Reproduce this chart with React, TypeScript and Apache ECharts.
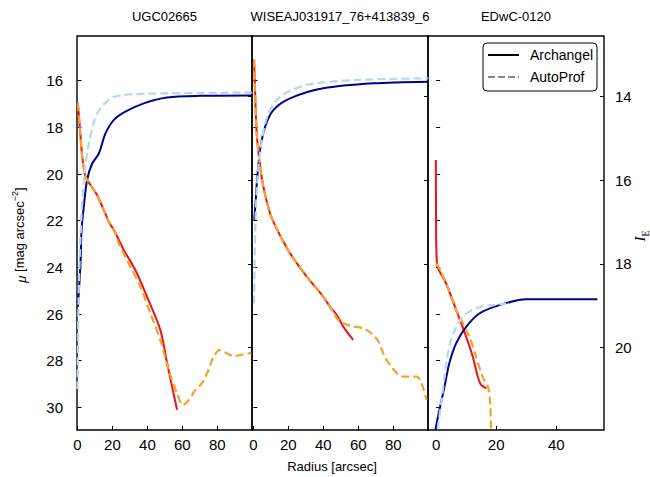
import React, { useEffect, useRef } from "react";
import * as echarts from "echarts";

const panelTitles = ["UGC02665", "WISEAJ031917_76+413839_6", "EDwC-0120"];
const muTicks = [16, 18, 20, 22, 24, 26, 28, 30];
const magTicks = [14, 16, 18, 20];
const xTicksWide = [0, 20, 40, 60, 80];
const xTicksNarrow = [0, 20, 40];

// Panel 1: UGC02665
const p1ArchMuR = [0.2, 1.3, 2.7, 4.6, 7.4, 11.2, 15, 17.9, 21.2, 26.5, 33.1, 39.8, 47.4, 51.3, 54.1, 57];
const p1ArchMu = [16.97, 17.97, 19.26, 20.11, 20.47, 20.9, 21.54, 22.04, 22.45, 23.26, 24.11, 25.26, 26.68, 28.1, 29.1, 30.1];
const p1AutoMuR = [0.2, 1.3, 2.7, 4.6, 7.4, 11.2, 15, 17.9, 21.2, 23.6, 29.3, 36, 41.7, 47.4, 52.2, 57, 60.4, 63.6, 67.4, 71.2, 75, 77.9, 81.7, 85.5, 89.3, 93.1, 99.5];
const p1AutoMu = [16.97, 17.97, 19.26, 20.11, 20.47, 20.9, 21.54, 22.04, 22.45, 22.97, 23.83, 24.83, 25.97, 27.11, 28.4, 29.4, 29.9, 29.7, 29.26, 28.97, 28.4, 27.83, 27.54, 27.68, 27.8, 27.76, 27.66];
const p1ArchMagR = [0.2, 1.7, 2.3, 3.6, 5.5, 8.4, 12.2, 16, 20.7, 27.4, 37.9, 51.3, 70.3, 99.8];
const p1ArchMag = [19.03, 17.99, 17.19, 16.63, 15.99, 15.6, 15.36, 14.88, 14.56, 14.36, 14.16, 14.02, 13.98, 13.97];
const p1AutoMagR = [0, 0.6, 1.7, 3.6, 6.5, 11.3, 18.9, 25, 32.2, 51.3, 100];
const p1AutoMag = [21.0, 18.87, 17.35, 15.99, 15.12, 14.4, 14.04, 13.97, 13.94, 13.92, 13.9];

// Panel 2: WISEAJ031917_76+413839_6
const p2ArchMuR = [0.4, 1.0, 1.9, 3.4, 5.7, 9.5, 13, 16.2, 21, 30.5, 40, 43.8, 47.7, 51.5, 57.1];
const p2ArchMu = [15.08, 16.54, 18.25, 19.4, 20.54, 21.68, 22.3, 22.76, 23.4, 24.4, 25.26, 25.69, 26.04, 26.55, 27.11];
const p2AutoMuR = [0.4, 1.0, 1.9, 3.4, 5.7, 9.5, 13, 16.2, 21, 30.5, 40, 43.8, 49.1, 55.3, 62.9, 67.7, 71.5, 76.2, 85.7, 93.4, 96.2, 99.1];
const p2AutoMu = [15.08, 16.54, 18.25, 19.4, 20.54, 21.68, 22.3, 22.76, 23.4, 24.4, 25.26, 25.69, 26.3, 26.5, 26.62, 26.84, 27.17, 27.97, 28.68, 28.68, 28.97, 29.68];
const p2ArchMagR = [0.5, 1.3, 2.0, 3.8, 6.7, 11.4, 21, 40, 68.6, 100];
const p2ArchMag = [16.95, 16.5, 16.05, 15.28, 14.72, 14.32, 14.04, 13.8, 13.68, 13.64];
const p2AutoMagR = [0.4, 1.0, 2.3, 4.8, 8.6, 15.3, 30.5, 59, 100];
const p2AutoMag = [18.95, 17.27, 15.99, 15.04, 14.4, 14.0, 13.72, 13.6, 13.56];

// Panel 3: EDwC-0120
const p3ArchMuR = [-0.1, -0.05, 0, 0.1, 0.5, 3.3, 6.7, 10, 12.2, 13.9, 15, 16.7];
const p3ArchMu = [19.4, 21.0, 22.4, 23.3, 23.97, 24.68, 25.83, 26.97, 27.83, 28.69, 29.04, 29.18];
const p3AutoMuR = [0, 1.1, 3.3, 6.7, 11.1, 13.3, 15.5, 17.2, 18, 18.3];
const p3AutoMu = [23.83, 24.04, 24.68, 25.83, 26.97, 27.83, 28.69, 29.1, 29.83, 30.95];
const p3ArchMagR = [-0.2, 1.1, 2.8, 4.4, 6.7, 10, 14.4, 21.1, 30, 53.7];
const p3ArchMag = [21.96, 21.5, 20.94, 20.38, 19.9, 19.51, 19.19, 18.99, 18.85, 18.85];
const p3AutoMagR = [0.5, 1.7, 2.8, 4.4, 6.7, 10, 14.4, 18.9, 23.3];
const p3AutoMag = [21.96, 21.34, 20.7, 19.98, 19.51, 19.19, 19.04, 18.99, 18.96];

const FONT = "Liberation Sans";
const RED = "#e8141a";
const NAVY = "#00008b";
const ORANGE = "#f2a32c";
const LIGHTBLUE = "#b7d7e8";

const zip = (xs: number[], ys: number[]) => xs.map((x, i) => [x, ys[i]]);

const panels = [
  { left: 77, width: 175, xmin: -0.3, xmax: 99.9, ticks: xTicksWide,
    archMu: zip(p1ArchMuR, p1ArchMu), autoMu: zip(p1AutoMuR, p1AutoMu),
    archMag: zip(p1ArchMagR, p1ArchMag), autoMag: zip(p1AutoMagR, p1AutoMag) },
  { left: 252, width: 176, xmin: -0.8, xmax: 99.9, ticks: xTicksWide,
    archMu: zip(p2ArchMuR, p2ArchMu), autoMu: zip(p2AutoMuR, p2AutoMu),
    archMag: zip(p2ArchMagR, p2ArchMag), autoMag: zip(p2AutoMagR, p2AutoMag) },
  { left: 428, width: 176, xmin: -2.7, xmax: 55.9, ticks: xTicksNarrow,
    archMu: zip(p3ArchMuR, p3ArchMu), autoMu: zip(p3AutoMuR, p3AutoMu),
    archMag: zip(p3ArchMagR, p3ArchMag), autoMag: zip(p3AutoMagR, p3AutoMag) },
];

const TOP = 36;
const HEIGHT = 394;

export default function App() {
  const ref = useRef<HTMLDivElement>(null);
  useEffect(() => {
    if (!ref.current) return;
    const chart = echarts.init(ref.current, null, { renderer: "svg" });
    const grid: any[] = [];
    const xAxis: any[] = [];
    const yAxis: any[] = [];
    const series: any[] = [];
    panels.forEach((p, i) => {
      grid.push({ left: p.left, top: TOP, width: p.width, height: HEIGHT, show: true,
        borderColor: "#000", borderWidth: 1.4, backgroundColor: "transparent" });
      xAxis.push({
        gridIndex: i, type: "value", min: p.xmin, max: p.xmax,
        axisLine: { show: false },
        splitLine: { show: false },
        axisTick: { show: true, inside: true, length: 4, customValues: p.ticks, lineStyle: { color: "#000", width: 1 } },
        axisLabel: { customValues: p.ticks, color: "#000", fontSize: 15, fontFamily: FONT, margin: 7 },
      });
      yAxis.push({
        gridIndex: i, type: "value", position: "left", inverse: true, min: 14.084, max: 30.97,
        axisLine: { show: false }, splitLine: { show: false },
        axisTick: { show: true, inside: true, length: 4, customValues: muTicks, lineStyle: { color: "#000", width: 1 } },
        axisLabel: { show: i === 0, customValues: muTicks, color: "#000", fontSize: 15, fontFamily: FONT, margin: 14, padding: [0, 0, 7, 0] },
      });
      yAxis.push({
        gridIndex: i, type: "value", position: "right", inverse: true, min: 12.547, max: 21.98,
        axisLine: { show: false }, splitLine: { show: false },
        axisTick: { show: true, inside: true, length: 4, customValues: magTicks, lineStyle: { color: "#000", width: 1 } },
        axisLabel: { show: i === 2, customValues: magTicks, color: "#000", fontSize: 15, fontFamily: FONT, margin: 11, padding: [0, 0, 7, 0] },
      });
      const base = { type: "line", xAxisIndex: i, showSymbol: false, symbol: "none", silent: true, smooth: 0.3 };
      series.push({ ...base, name: "Archangel mu " + i, yAxisIndex: 2 * i, data: p.archMu,
        lineStyle: { color: RED, width: 2 } });
      series.push({ ...base, name: "Archangel mag " + i, yAxisIndex: 2 * i + 1, data: p.archMag,
        lineStyle: { color: NAVY, width: 2 } });
      series.push({ ...base, name: "AutoProf mu " + i, yAxisIndex: 2 * i, data: p.autoMu,
        lineStyle: { color: ORANGE, width: 2.2, type: [8, 4] } });
      series.push({ ...base, name: "AutoProf mag " + i, yAxisIndex: 2 * i + 1, data: p.autoMag,
        lineStyle: { color: LIGHTBLUE, width: 2.2, type: [8, 4] } });
    });

    const graphic: any[] = [];
    panels.forEach((p, i) => {
      graphic.push({ type: "text", x: p.left + p.width / 2, y: 16,
        style: { text: panelTitles[i], fill: "#000", fontSize: 13, fontFamily: FONT, textAlign: "center", textVerticalAlign: "middle" } });
    });
    graphic.push({ type: "text", x: 332, y: 466,
      style: { text: "Radius [arcsec]", fill: "#000", fontSize: 13, fontFamily: FONT, textAlign: "center", textVerticalAlign: "middle" } });
    graphic.push({ type: "text", x: 19, y: 235, rotation: Math.PI / 2,
      style: { text: "{i|μ} [mag arcsec{sup|−2}]", fill: "#000", fontSize: 13, fontFamily: FONT, textAlign: "center", textVerticalAlign: "middle",
        rich: {
          i: { fontSize: 13, fontStyle: "italic", fontFamily: FONT, lineHeight: 18, verticalAlign: "bottom" },
          sup: { fontSize: 9, fontFamily: FONT, verticalAlign: "top", lineHeight: 18 },
        } } });
    graphic.push({ type: "text", x: 641, y: 236, rotation: Math.PI / 2,
      style: { text: "{i|I}{sub|E}", fill: "#000", textAlign: "center", textVerticalAlign: "middle",
        rich: {
          i: { fontSize: 15, fontStyle: "italic", fontFamily: "Liberation Serif", lineHeight: 18, verticalAlign: "top" },
          sub: { fontSize: 10, fontFamily: "Liberation Serif", lineHeight: 18, verticalAlign: "bottom" },
        } } });
    // legend
    graphic.push({ type: "rect", shape: { x: 483, y: 43, width: 114, height: 48, r: 4 },
      style: { fill: "#fff", stroke: "#000", lineWidth: 1 }, z: 100 });
    graphic.push({ type: "line", shape: { x1: 488, y1: 55, x2: 519, y2: 55 },
      style: { stroke: "#000", lineWidth: 2 }, z: 101 });
    graphic.push({ type: "line", shape: { x1: 488, y1: 77, x2: 519, y2: 77 },
      style: { stroke: "#888", lineWidth: 2, lineDash: [7, 3] }, z: 101 });
    graphic.push({ type: "text", x: 530, y: 55, z: 101,
      style: { text: "Archangel", fill: "#000", fontSize: 14, fontFamily: FONT, textVerticalAlign: "middle" } });
    graphic.push({ type: "text", x: 530, y: 77, z: 101,
      style: { text: "AutoProf", fill: "#000", fontSize: 14, fontFamily: FONT, textVerticalAlign: "middle" } });

    chart.setOption({
      animation: false,
      backgroundColor: "#fff",
      textStyle: { fontFamily: FONT },
      grid, xAxis, yAxis, series, graphic,
    });
    return () => chart.dispose();
  }, []);
  return (
    <div style={{ position: "fixed", left: 0, top: 0, width: 650, height: 477 }}>
      <div ref={ref} style={{ width: 650, height: 477 }} />
    </div>
  );
}
